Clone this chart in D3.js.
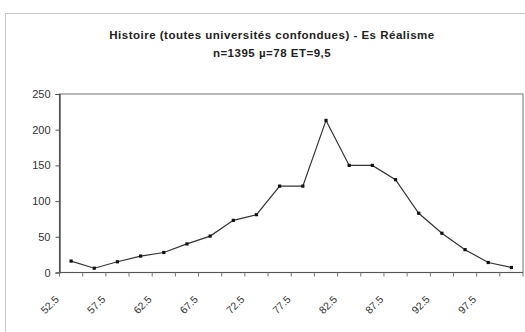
<!DOCTYPE html>
<html>
<head>
<meta charset="utf-8">
<script src="https://cdn.jsdelivr.net/npm/d3@7"></script>
<style>
  body { margin: 0; background: #fff; }
  svg { display: block; }
  text { font-family: Arial, "Liberation Sans", sans-serif; }
</style>
</head>
<body>
<svg id="chart" width="525" height="332"></svg>
<script>
const categories = ["52.5","55","57.5","60","62.5","65","67.5","70","72.5","75","77.5","80","82.5","85","87.5","90","92.5","95","97.5","100"];
const values = [16, 6, 15, 23, 28, 40, 51, 73, 81, 121, 121, 213, 150, 150, 130, 83, 55, 32, 14, 7];
const xTickLabels = ["52.5","57.5","62.5","67.5","72.5","77.5","82.5","87.5","92.5","97.5"];
const yTicks = [0, 50, 100, 150, 200, 250];
const titleLines = ["Histoire (toutes universités confondues) - Es Réalisme", "n=1395 µ=78 ET=9,5"];

const svg = d3.select("#chart");
const m = { left: 59.5, top: 94, right: 523, bottom: 272.5 };

// outer chart frame
svg.append("rect").attr("x", 5.5).attr("y", 13.5).attr("width", 530).attr("height", 340)
  .attr("fill", "#fff").attr("stroke", "#c8c8c8").attr("stroke-width", 1);

// title
svg.append("g").selectAll("text").data(titleLines).join("text")
  .attr("x", 272).attr("y", (d, i) => 39 + i * 18)
  .attr("text-anchor", "middle")
  .attr("font-size", 11.5).attr("font-weight", "bold").attr("fill", "#222")
  .attr("letter-spacing", 0.5)
  .text(d => d);

const x = d3.scaleBand().domain(categories).range([m.left, m.right]).padding(0);
const y = d3.scaleLinear().domain([0, 250]).range([m.bottom, m.top]);

// plot area frame
svg.append("rect").attr("x", m.left).attr("y", m.top)
  .attr("width", m.right - m.left).attr("height", m.bottom - m.top)
  .attr("fill", "none").attr("stroke", "#8a8a8a").attr("stroke-width", 1.2);

// y axis
const yAxis = svg.append("g").attr("transform", `translate(${m.left},0)`)
  .call(d3.axisLeft(y).tickValues(yTicks).tickSize(4).tickPadding(5));
yAxis.select(".domain").attr("stroke", "#333").attr("stroke-width", 1.2);
yAxis.selectAll(".tick line").attr("stroke", "#555");
yAxis.selectAll("text").attr("font-size", 11).attr("fill", "#333");

// x axis with ticks at category boundaries
const xAxisG = svg.append("g").attr("transform", `translate(0,${m.bottom})`);
xAxisG.append("line").attr("x1", m.left).attr("x2", m.right).attr("y1", 0).attr("y2", 0)
  .attr("stroke", "#555").attr("stroke-width", 1.2);
xAxisG.selectAll("line.tk").data(categories).join("line").attr("class", "tk")
  .attr("x1", d => x(d) + x.bandwidth()).attr("x2", d => x(d) + x.bandwidth())
  .attr("y1", 0).attr("y2", 4).attr("stroke", "#777");
xAxisG.append("line").attr("x1", m.left).attr("x2", m.left).attr("y1", 0).attr("y2", 4).attr("stroke", "#777");

xAxisG.selectAll("text").data(xTickLabels).join("text")
  .attr("transform", d => `translate(${x(d) + x.bandwidth() / 2 - 14},${25}) rotate(-45)`)
  .attr("text-anchor", "end").attr("dy", "0.35em")
  .attr("font-size", 10.5).attr("fill", "#333")
  .text(d => d);

// line
const pts = categories.map((c, i) => ({ c, v: values[i] }));
const line = d3.line().x(d => x(d.c) + x.bandwidth() / 2).y(d => y(d.v));
svg.append("path").datum(pts).attr("d", line)
  .attr("fill", "none").attr("stroke", "#333").attr("stroke-width", 1.2);

svg.append("g").selectAll("rect").data(pts).join("rect")
  .attr("x", d => x(d.c) + x.bandwidth() / 2 - 1.6)
  .attr("y", d => y(d.v) - 1.6)
  .attr("width", 3.2).attr("height", 3.2)
  .attr("fill", "#111");
</script>
</body>
</html>
